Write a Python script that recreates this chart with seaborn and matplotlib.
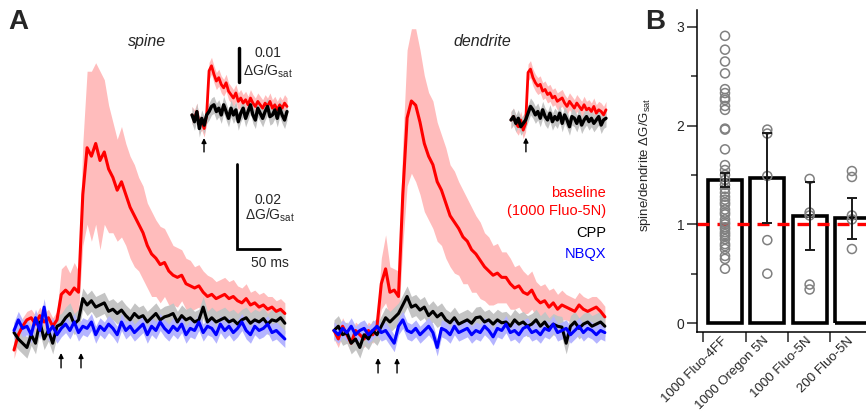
import numpy as np
import pandas as pd
import matplotlib
matplotlib.use("Agg")
import matplotlib.pyplot as plt
import seaborn as sns

sns.set_style("white")
plt.rcParams['font.family'] = ['Liberation Sans', 'DejaVu Sans']
plt.rcParams['mathtext.fontset'] = 'custom'
plt.rcParams['mathtext.rm'] = 'Liberation Sans'
plt.rcParams['mathtext.default'] = 'regular'

# ---- panel A traces, dG/Gsat in units of 1e-3, sampled every 5 ms ----
spine_red = [-6.6, -3, -1, 0.5, 1, -0.5, 1.5, 0,
             1, -1, 0.5, 6.5, 7.5, 6.5, 8, 7,
             30, 41, 39, 42, 38, 40, 36, 34,
             31, 33, 30, 27, 25, 23, 21, 18,
             16, 15, 13.5, 14, 12, 11, 10.5, 11,
             9, 8.5, 8, 8.5, 7, 6, 6.5, 5.5,
             6, 6.5, 5.5, 6, 5, 4.5, 5.5, 4,
             4.5, 3.5, 4, 3, 3.5, 2.5, 3, 2]
spine_red_sem = [2, 2, 2, 2, 2, 2, 2, 2,
                 2, 2, 2, 6, 6, 5, 6, 5,
                 12, 18, 20, 19, 21, 17, 15, 13,
                 12, 13, 12, 12, 12, 11, 11, 10,
                 10, 9, 9, 8, 8, 7, 7, 6,
                 6, 6, 5, 5, 5, 5, 4, 4,
                 4, 4, 4, 4, 3.5, 3.5, 3.5, 3,
                 3, 3, 3, 3, 2.5, 2.5, 2.5, 2.5]
spine_black = [-2.5, -4, -5, -6, -3, -5, 0, -4,
               -2, -5, -1, -0.5, 1, 2, -0.5, 0.5,
               5.5, 4, 5, 3.5, 4, 4.5, 2.5, 3,
               2, 2.8, 1.5, 0.5, 2, 1, 1.5, 0,
               1, 2, 0.5, 1.2, 1.5, 2, 0, 1.5,
               0.5, 1, 0, 0.5, 3.5, 0, 1, 0,
               0.5, 1, 0, 0.5, -0.5, 0.5, 1, -0.3,
               0.5, 0, 0.8, -0.5, 0.5, 0.2, 1, -0.3]
spine_blue = [-2, 0.5, -1.5, -1, -3, 1, -2, 3.5,
              -2.5, -1, -3, -1.5, -0.5, -2, 0, -2.5,
              -1, -1.5, 0, -3, -1, -2, -0.5, -1.5,
              -3, 0, -2, -1, -2.5, -1.5, -0.5, -3,
              -1, -2, 0, -1.5, -2.5, -1, -2, -0.5,
              -3, -1.5, -2, 0, -2.5, -1, -1.5, -3,
              -0.5, -2, -1, -2.5, -1.5, 0, -2, -3,
              -1, -2, -1.5, -0.5, -2.5, -2, -3, -4]

dend_red = [-2, -4, -1, -3, -5, -2, -3, -4,
            -2, -3, -1, 9, 12.5, 7, 7.5, 6,
            30, 48, 52, 51, 47, 42, 39, 37,
            33, 31, 28, 25, 23.5, 22, 20, 19,
            17, 16, 14.5, 13, 12, 11, 11.5, 10.5,
            10.5, 9, 8, 8.5, 7, 6.5, 7.5, 5.5,
            4.5, 5, 3.5, 4.5, 3, 4, 3.5, 3,
            2.5, 4, 3, 2.5, 3, 3.5, 2.5, 1.2]
dend_red_sem = [2, 2, 2, 2, 2, 2, 2, 2,
                2, 2, 2, 6, 8, 6, 5, 6,
                12, 16, 17, 18, 17, 16, 15, 15,
                14, 13, 13, 12, 12, 11, 11, 10,
                10, 9, 9, 8, 8, 7, 7, 6,
                6, 6, 5, 5, 5, 4.5, 4.5, 4,
                4, 4, 4, 3.5, 3.5, 3.5, 3, 3,
                3, 3, 3, 3, 3, 2.5, 2.5, 2.5]
dend_black = [-2, -1, -3, -2.5, -5, -4, -6, -3,
              -4, -2, -3, -1, 1, 0, 1, 2,
              4, 6, 3.5, 4, 2.8, 3.5, 1.5, 2.5,
              1.2, 2, 0.5, -0.2, 1, -0.5, 0, 0.5,
              -0.3, 1, 1.2, 0, 0.5, -0.5, 0.5, -0.2,
              0, -1, 0.5, -0.5, 0, -1, -0.5, 0.5,
              -1, 0, -1.5, -0.5, -1, -1.2, -5, -1,
              0, -1.5, -0.5, 0, -1, -0.5, 0, -1]
dend_blue = [-2, -3, -1.5, -2.5, -1, -3, -2, -1.5,
             -3, -2, -1, -2.5, -2, -3.5, -5, -1,
             0.5, -2, -2.5, -1.5, -3, -2, -1, -2.5,
             -6, -1.5, -2, -3, -1, -2.5, -2, -1.5,
             -3, -2, -2.5, -1, -2, -3.5, -1.5, -2,
             -0.5, -2.5, -2, -3, -1.5, -1, -2.5, -2,
             -3, -1.5, -2, -0.5, -2.5, -2, -1.5, -3,
             -2, -1, -2.5, -1.5, -2, -3, -2, -2.5]
black_sem = 2.5
blue_sem = 2.0

# insets (single stimulus), 1e-3, sampled every 8 ms
ins_spine_red = [0, -1, 1, -3, -2, -4, 0, 13,
                 14.5, 12, 10, 11, 9, 8, 9.5, 7,
                 6, 5, 6.5, 4, 5, 3.5, 4.5, 3,
                 5, 3.5, 2.5, 4, 3, 2, 3.5, 2.5,
                 4, 2, 3, 1.5, 3, 2, 3.5, 2.5]
ins_spine_black = [0, -2, 1, -4, -1, -3, 0, 1,
                   2.5, 3, 1, 2, 0, 3, 1, -1,
                   2, 0, 1.5, -2, 0.5, 2, -1, 1,
                   3, 0, -1.5, 2, 0.5, -1, 1, 2.5,
                   -0.5, 0, 1.5, -1, 2, 0, -1.5, 1]
ins_dend_red = [0, 1, -1, -2, 0, -3, -1, 14,
                15, 12.5, 11, 10, 10.5, 8.5, 9, 7.5,
                8, 6.5, 7, 5.5, 6, 6.5, 5, 4,
                5.5, 4.5, 3.5, 5, 4, 3, 4.5, 3,
                3.5, 2.5, 4, 2, 3, 2.5, 1.5, 3]
ins_dend_black = [0, 1, -1, 0.5, -2, -1, 0, 2,
                  4, 3, 1.5, 2.5, 0.5, 3, 1, 0,
                  2, -0.5, 1, 0, 2, -1, 1.5, 0,
                  -2, 1, 0.5, -1, 1, -1.5, 0, 1,
                  -0.5, 0.5, -1, 0, 1, -1.5, 0, 0.5]
ins_sem = 2.5

# ---- panel B ----
dyes = ['1000 Fluo-4FF', '1000 Oregon 5N', '1000 Fluo-5N', '200 Fluo-5N']
ratio_mean = [1.45, 1.47, 1.08, 1.06]
ratio_sem = [0.075, 0.46, 0.345, 0.205]
fluo4ff_pts = [2.91, 2.77, 2.65, 2.53, 2.37, 2.33, 2.28, 2.26, 2.20, 2.16,
               1.97, 1.96, 1.76, 1.60, 1.55, 1.50, 1.45, 1.40, 1.36, 1.32,
               1.28, 1.25, 1.22, 1.20, 1.15, 1.12, 1.10, 1.05, 1.02, 1.00,
               0.97, 0.95, 0.92, 0.90, 0.88, 0.85, 0.80, 0.78, 0.75, 0.68,
               0.65, 0.55]
oregon_pts = [1.96, 1.92, 1.49, 0.84, 0.50]
fluo5n_pts = [1.46, 1.12, 1.09, 0.39, 0.34]
fluo5n200_pts = [1.54, 1.48, 1.09, 1.05, 0.75]

RED, PINK = '#ff0000', '#ffbcbc'
GREY, LBLUE = '#c4c4c4', '#b4b4ff'
DG = 'ΔG/G$_{sat}$'

fig = plt.figure(figsize=(8.66, 4.12), dpi=100)
W, H = 866, 412


def px_axes(x0, y0, w, h):
    return fig.add_axes([x0 / W, 1 - (y0 + h) / H, w / W, h / H])


def traces(ax, t, red, red_sem, black, blue, lw=2.2):
    red = np.array(red) / 1000
    rs = np.array(red_sem) / 1000
    black = np.array(black) / 1000
    ax.fill_between(t, red - rs, red + rs, color=PINK, lw=0, zorder=1)
    ax.fill_between(t, black - black_sem / 1000, black + black_sem / 1000,
                    color=GREY, lw=0, zorder=2)
    if blue is not None:
        blue = np.array(blue) / 1000
        ax.fill_between(t, blue - blue_sem / 1000, blue + blue_sem / 1000,
                        color=LBLUE, lw=0, zorder=3)
    sns.lineplot(x=t, y=red, ax=ax, color=RED, lw=lw, zorder=4)
    sns.lineplot(x=t, y=black, ax=ax, color='black', lw=lw, zorder=5)
    if blue is not None:
        sns.lineplot(x=t, y=blue, ax=ax, color='blue', lw=lw, zorder=6)


def arrow(ax, x, y0, y1):
    ax.annotate('', xy=(x, y1), xytext=(x, y0),
                arrowprops=dict(arrowstyle='-|>', color='black', lw=1,
                                mutation_scale=7, shrinkA=0, shrinkB=0))


t_main = np.arange(len(spine_red)) * 5.0
t_ins = np.arange(len(ins_spine_red)) * 8.0

axS = px_axes(0, 0, 300, 412)
axD = px_axes(320, 0, 300, 412)
for ax in (axS, axD):
    ax.set_xlim(-16.3, 332.6)
    ax.set_ylim(-0.02118, 0.07576)
    ax.axis('off')

traces(axS, t_main, spine_red, spine_red_sem, spine_black, spine_blue)
traces(axD, t_main, dend_red, dend_red_sem, dend_black, dend_blue)

arrow(axS, 54.7, -0.0108, -0.0073)
arrow(axS, 77.9, -0.0108, -0.0073)
arrow(axD, 51.2, -0.0120, -0.0085)
arrow(axD, 73.3, -0.0120, -0.0085)

axS.text(154.7, 0.0659, 'spine', style='italic', fontsize=11.5,
         ha='center', va='center')
axD.text(172.1, 0.0659, 'dendrite', style='italic', fontsize=11.5,
         ha='center', va='center')

# main scale bar
axS.plot([259.3, 259.3, 309.3], [0.03718, 0.01718, 0.01718],
         color='black', lw=2, solid_joinstyle='miter', clip_on=False)
axS.text(295.3, 0.0287, '0.02', fontsize=10, ha='center', va='center')
axS.text(297.7, 0.0250, DG, fontsize=10, ha='center', va='center')
axS.text(297.7, 0.0139, '50 ms', fontsize=10, ha='center', va='center')

# legend text
for txt, y, c in [('baseline', 0.03035, RED), ('(1000 Fluo-5N)', 0.02612, RED),
                  ('CPP', 0.02094, 'black'), ('NBQX', 0.0160, 'blue')]:
    axD.text(316.3, y, txt, color=c, fontsize=10.5, ha='right', va='center')

# insets
insS = px_axes(190, 40, 100, 115)
insD = px_axes(509, 45, 100, 115)
for ax, red, black in [(insS, ins_spine_red, ins_spine_black),
                       (insD, ins_dend_red, ins_dend_black)]:
    ax.set_xlim(-6.6, 321.8)
    ax.set_ylim(-0.0118, 0.0221)
    ax.axis('off')
    red = np.array(red) / 1000
    black = np.array(black) / 1000
    ax.fill_between(t_ins, red - ins_sem / 1000, red + ins_sem / 1000,
                    color=PINK, lw=0, zorder=1)
    ax.fill_between(t_ins, black - ins_sem / 1000, black + ins_sem / 1000,
                    color=GREY, lw=0, zorder=2)
    sns.lineplot(x=t_ins, y=red, ax=ax, color=RED, lw=2, zorder=4)
    sns.lineplot(x=t_ins, y=black, ax=ax, color='black', lw=2.4, zorder=5)
arrow(insS, 39.4, -0.0109, -0.0068)
arrow(insD, 49.0, -0.0094, -0.0052)
insS.plot([154, 154], [0.0097, 0.0197], color='black', lw=2.5, clip_on=False)
insS.text(249.6, 0.0182, '0.01', fontsize=10, ha='center', va='center')
insS.text(249.6, 0.0130, DG, fontsize=10, ha='center', va='center')

# ---- panel B ----
axB = px_axes(697, 10, 169, 322)
pts = pd.concat([pd.DataFrame({'dye': d, 'ratio': p}) for d, p in
                 zip(dyes, [fluo4ff_pts, oregon_pts, fluo5n_pts, fluo5n200_pts])])
sns.barplot(x=dyes, y=ratio_mean, order=dyes, ax=axB, color='white',
            edgecolor='black', linewidth=2.6, width=0.8, errorbar=None,
            zorder=2)
for p in axB.patches:
    p.set_facecolor('none')
sns.stripplot(data=pts, x='dye', y='ratio', order=dyes, ax=axB, jitter=False,
              color='grey', size=6.5, linewidth=1.1, edgecolor='grey',
              zorder=3)
for c in axB.collections:
    c.set_facecolor('none')
    c.set_edgecolor('#808080')
axB.errorbar(np.arange(len(dyes)), ratio_mean, yerr=ratio_sem, fmt='none',
             ecolor='#1a1a1a', elinewidth=1.4, capsize=3.5, capthick=1.4,
             zorder=4)
axB.axhline(1, color=RED, lw=2.4, ls=(0, (3.6, 2.4)), zorder=2.5)

axB.set_xlim(-0.662, 3.333)
axB.set_ylim(-0.091, 3.172)
axB.set_yticks([0, 1, 2, 3])
axB.set_yticks([0.5, 1.5, 2.5], minor=True)
axB.set_xticks(np.arange(len(dyes)))
axB.set_xticklabels(dyes, rotation=45, ha='right', va='center',
                    rotation_mode='anchor', fontsize=9.5)
axB.set_xticks(np.arange(len(dyes)) - 0.51, minor=True)
axB.tick_params(axis='x', which='major', length=0, pad=5)
axB.tick_params(axis='x', which='minor', length=7, width=1.1,
                direction='out', bottom=True)
axB.tick_params(axis='y', which='major', length=7, width=1.1,
                direction='out', left=True, labelsize=10, pad=2)
axB.tick_params(axis='y', which='minor', length=4, width=1.1,
                direction='out', left=True)
axB.set_xlabel('')
axB.set_ylabel('spine/dendrite ' + DG, fontsize=9.5)
axB.yaxis.set_label_coords(-0.26, 0.52)
for s in ('top', 'right'):
    axB.spines[s].set_visible(False)
for s in ('left', 'bottom'):
    axB.spines[s].set_linewidth(1.1)
    axB.spines[s].set_color('black')

fig.text(18 / W, 1 - 22 / H, 'A', fontsize=20, fontweight='bold',
         ha='center', va='center')
fig.text(655 / W, 1 - 22 / H, 'B', fontsize=20, fontweight='bold',
         ha='center', va='center')

fig.savefig('out.png', dpi=100)
